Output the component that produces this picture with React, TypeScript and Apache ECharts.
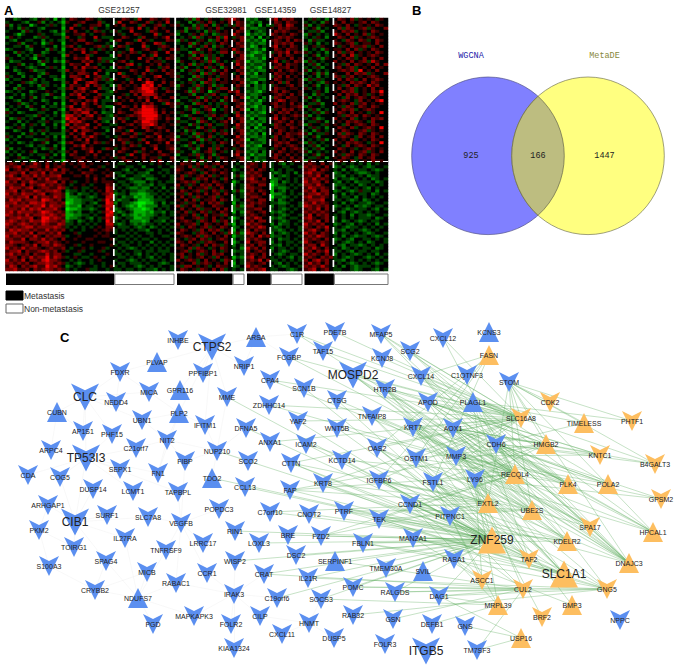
import React, { useEffect, useRef } from "react";
import * as echarts from "echarts";

const panelTitles = ["GSE21257", "GSE32981", "GSE14359", "GSE14827"];
const metastasisCounts = [27, 14, 6, 7];
const legendNames = ["Metastasis", "Non-metastasis"];
const vennSets = ["WGCNA", "MetaDE"];
const vennCounts = [925, 166, 1447];

const heatGSE21257 = [
"442344324534142 465446543444 446543744654564","344432445243431 544564446344 374465446345474",
"524344134435342 446344556424 546444364456345","434253443244441 474454634434 443564743464544",
"344425343443242 546443465343 534474443654464","443134445344331 445564344544 453446544473445",
"254344423534442 644354474333 446544364454574","432443344243432 454664435442 564443745344465",
"344524434135441 445446544434 344654464476344","443342544344242 564344456352 465344473445654",
"234443244425341 446564343543 544374456443546","442534344234432 454474564434 435465344564474",
"344243425344441 645446344442 464544464374445","534434314434342 446557446333 344544745643465",
"423344442534231 544465645352 456434446455344","344524343144442 465547443444 544674344546454",
"243443234435341 446475564342 465344546443564","442344523344432 645564446433 344465447354645",
"344234443254442 454665474424 473445464544465","534424342443341 466547456334 446544354467445",
"243344524344232 446754465352 544354746454544","434453234334442 547446764433 445464458744645",
"344244342534341 465547465342 364545487846445","442534443244432 564675446334 465445688764354",
"234344234454342 446564574432 544465678854465","443424344325441 465745446333 445346477764544",
"324434524344232 544674465424 464544656475446","443244344234442 465546574333 345464547446554",
"344523434434241 446475464344 564445465644375","434342544243342 574465446322 446546487754445",
"243444234534431 466756544343 454465688864544","534234443344242 546577464233 465446788874645",
"344443325434341 775646745432 544565688885454","423534344243442 867465546333 465344678875465",
"344243443354331 576754464324 546446588764454","443424534244242 746557446443 344564577864545",
"234534344434341 465675464334 465445476456544","442344243534442 547466544424 554374446545464",
"344424534243332 464574465344 446546354465445","534243344434241 546465754434 354465446547455",
"243444423354342 445647454445 465544364456546","434234344524431 564456465354 446354547445474",
"344443243344242 446574544444 545465344564455","524344434235341 454465644365 346544464474456",
"243434524443432 546445746444 465446354546445","434244343354241 465445464454 544374465445654",
"344523444243442 445564454545 356445464553446","443344234454331 544645445444 445654454647445",
"565464575464546 454564544454 433444344345434","656745665474565 445465445344 344334424443443",
"745656456565746 544544654454 443243443244334","566574665746556 454465544545 334334332443434",
"675466575656674 445546454465 432443323344343","566756646575565 544445464544 344323342234443",
"756465765566746 453445454555 433432224343433","665574656756565 434454344465 343343233243344",
"576656745665576 345433454476 434322322434243","667465576566764 233434345476 343433223343434",
"756576656745665 134233434567 233422112334343","665667475665765 122343234477 342331212243434",
"576756665876564 112233343586 323343111233344","667565776756656 012234324487 243321001134243",
"756667566857665 122143343577 343212012224334","666575767566754 011233234486 234321101243434",
"675766656876565 123244343578 323431112133243","765657566767656 112233434487 342321212234343",
"566766745886765 122343243576 234331122343334","676565766876656 234234343486 343422212433243",
"765676565765576 334343434477 323432323343434","656567756666765 343434345466 433343234234343",
"576766565575656 434434454565 343434332443434","667565746656574 445344445454 344343443343443",
"756656575465665 344544454554 433434344344334","665574665756546 445445544445 344343433434443",
"576665456675654 544454445544 433434344243434","665456574665765 445344544445 343344343434343",
"756575665456556 434454344534 434323434343434","566746556765645 344534445344 343443343343334",
"675656465575664 443344344454 334343243434343","566465756685765 345433454344 433434343243443",
"756574665786654 434344345444 344323434334343","665656456676565 343234344344 433433343443234",
"576465675586754 234344434345 343443234343443","667556465676565 343445334434 334334343324343",
];
const heatGSE32981 = [
"44352643544356 754","34424354634546 465","53442536425435 365","44253634546344 546","35244342535454 465","24435463423554 754",
"43452634546374 356","25344354236464 546","34462543534654 465","43425436425345 456","53344254634554 754","34426534543664 365",
"43452463534344 546","34435642536444 456","25443453625434 365","43462534543644 475","35244346354254 546","42453634525464 465",
"34435426354654 346","53442634543554 464","34425354636454 565","43453426534554 546","25443634525344 465","34435254643664 354",
"44526354135446 574","34452443564334 465","43344625345464 546","24435346454254 654","53442654343534 456","34254436543464 465",
"44352345614354 546","35442634534454 364","43254443564534 475","24436354245346 456","53344265434564 546","34425343643354 475",
"43544264534454 365","34253445364534 456","45342634543564 546","24435254634344 475","53344625345434 556","34452434534654 465",
"43254364435344 546","34435244636454 354","53442345634534 465","24453634525444 574","43344524643654 456","34252463543454 546",
"46554635456454 434","55463546534644 343","65446354565454 234","54565436454654 343","46354564635454 252","56443656454364 343",
"45656345465454 134","64535465646544 243","53464556354644 343","46545635465354 252","55364546456464 343","46453654563544 243",
"54646345564654 234","45355464656344 143","63546354465544 252","46454635546464 233","54635465354654 142","45546346455364 343",
"56445635464543 134","45654365463564 243","64556346545463 143","53465456354654 234","46545364656345 143","65443565464536 252",
"45654636545464 133","54356465345654 243","65464535654464 134","46545346465354 243","55463654354654 342","45634565464354 233",
"56454635465644 343","46354564536454 132","64565346454365 243","45446356545464 143","53664545346554 234","46545365464634 343",
];
const heatGSE14359 = [
"232443 57465644","323244 46546554","234142 35647644","322334 54656554","243234 46565445","132324 65454654",
"324143 45656544","232314 56546465","323224 46565644","312434 57454654","232314 46546554","321234 35657465",
"213324 54646544","322314 46554645","132234 57435465","323324 45646554","232134 36556454","323224 54645654",
"231434 46554545","322334 35646454","233224 46545545","321434 54636445","242324 35445645","332324 46554554",
"232134 56465445","322344 45654645","132424 36546554","323134 45764554","232244 56454645","321324 46554556",
"142324 35465645","323214 54656454","232334 46454565","314224 57465454","232324 45654645","323144 36546545",
"241324 46554654","323234 54654545","232414 45646556","322324 36456545","143224 56454654","323324 45656445",
"232144 46545654","322334 35464565","232424 54654545","313224 46546454","242334 56454645","332324 45654565",
"565464 34324344","655464 34433443","564654 24343344","656544 32343424","565644 24323443","675464 22343434",
"566554 12423434","654664 02334343","665544 13223434","564654 14324344","655464 12234343","566544 03323434",
"654664 24234344","565654 33223443","664554 24334343","556644 34323434","654564 23234344","565454 34323443",
"657644 23234334","564664 34323443","756544 24233434","565764 32343443","646554 33234343","765464 24323434",
"564756 23343443","656544 34233434","745664 24343343","564654 33243434","756464 24334343","645654 34323443",
"565464 43234334","674564 34343243","565746 33434343","654564 43243434","756544 34323443","565674 33443234",
];
const heatGSE14827 = [
"4353424 46546354 54354","3434254 54645456 46544","5243544 65464354 54654","3452434 46365456 35446","4335244 54656345 46544","2543434 75464546 35454",
"3435424 46546354 56544","4253344 54365465 34654","5342434 65456345 54644","3453544 43546556 35464","2434254 55464635 46544","5343424 46356454 54654",
"3452434 54647354 56544","4345254 45465346 45464","2534344 64546456 37544","4352434 45364654 54646","3435244 56456345 46454","5243434 45656384 54644",
"3452524 54464656 35446","4342434 65356454 56544","2535344 46465346 45654","4343254 54546565 46544","3452434 45364654 75644","5343424 46456345 46454",
"4435424 54656345 46584","3425344 46465645 35464","5243434 54364565 46544","3452444 45654364 54684","4335244 64546356 45454","2544344 45365465 46544",
"4352434 54656345 65444","3435254 46546454 35484","5243444 45365646 54544","3452344 64546345 46564","4335424 45465654 36444","2544354 54364565 46544",
"4353424 46546345 65484","3425434 54654456 35454","5243354 46365465 46544","3452444 45654364 56464","4343524 64546345 46544","2534344 45465654 35484",
"4352434 54364565 46544","3435244 46545345 65454","5243434 64546456 35464","3452544 45365465 46544","4335424 54654364 56444","2544344 46546345 46554",
"5654645 34343434 24344","6565464 23432343 23443","5674654 34243233 43234","6756544 23434322 34344","5657464 33243434 23344","6575654 24332343 42343",
"7566464 32434233 34234","6657544 23343423 43434","5765654 34234343 24344","6574664 23432353 34243","5667564 34243433 42344","6755654 24334243 43434",
"5666744 33432342 34344","6575654 34243433 23443","7656564 23434232 34334","5657464 34323433 43243","6565654 43243234 34344","5746564 34342433 23443",
"6754564 24343433 34234","5657464 34234323 43344","7565644 23432434 34243","6546574 34323343 43434","5675464 33243432 34344","7564654 24334343 23443",
"5657654 34243233 43234","6565464 23432443 34343","7545654 34323434 23443","5664754 43243323 43434","6575464 34234343 34234","5646574 33432433 43344",
"7565464 24343234 34243","5654656 34323443 23434","6467564 33243434 34343","5756464 43432343 43234","6565754 34243233 34344","5674564 33443234 43243",
];

const blueChevrons: [string, number, number][] = [
["INHBE",178,340],["CTPS2",212,347],["C1R",297,334],["PDE7B",335,332],["FCGBP",289,357],["TAF15",323,351],["FDXR",120,372],["PPFIBP1",203,373],
["NRIP1",244,366],["CPA4",270,380],["SCN1B",304,388],["MOSPD2",353,375],["CLC",85,397],["NEDD4",116,402],["MICA",149,392],["MME",227,397],
["ZDHHC14",269,405],["CTSG",337,400],["UBN1",142,420],["IFITM1",205,425],["DFNA5",246,428],["YAF2",298,421],["WNT5B",337,428],["AP1S1",83,431],
["PHF15",112,434],["C21orf7",136,448],["NIT2",167,440],["ANXA1",270,442],["ICAM2",306,444],["NUP210",217,451],["ARPC4",51,450],["TP53I3",86,458],
["SEPX1",120,469],["FIBP",185,461],["SCO2",248,461],["CTTN",291,463],["KCTD14",342,460],["CDA",28,475],["COG5",60,477],["FN1",158,473],
["CCL13",245,487],["FAP",290,490],["KRT8",323,483],["DUSP14",93,489],["LCMT1",133,491],["TAPBPL",178,492],["ARHGAP1",48,505],["SURF1",107,515],
["SLC7A8",148,517],["VEGFB",181,523],["POPDC3",219,509],["C7orf10",270,512],["CNOT2",309,514],["PTRF",344,511],["CIB1",75,522],["PKM2",39,530],
["RIN1",235,531],["BRE",288,535],["FZD2",321,536],["IL27RA",125,538],["LRRC17",203,543],["LOXL3",259,543],["TOIRG1",74,547],["TNFRSF9",166,550],
["DSC2",296,555],["S100A3",49,566],["SPAG4",106,561],["WISP2",235,561],["MICB",147,572],["CCR1",207,573],["CRAT",264,574],["IL21R",308,578],
["RABAC1",176,583],["CRYBB2",95,590],["IRAK3",234,594],["C19orf6",277,598],["SOCS3",321,599],["MAPKAPK3",194,616],["CILP",260,616],["FOLR2",231,624],
["PGD",153,624],["HNMT",309,623],["CXCL11",282,634],["DUSP5",334,638],["KIAA1324",234,648],["MFAP5",381,334],["CXCL12",443,338],["SCG2",410,351],
["KCNJ8",382,358],["C1QTNF3",467,375],["CXCL14",421,376],["STOM",509,382],["HTR2B",385,389],["APOD",428,402],["TNFAIP8",372,416],["KRT7",413,427],
["AOX1",453,428],["OAS2",377,448],["CDH6",496,444],["OSTM1",416,458],["MMP3",456,456],["IGFBP6",379,480],["FSTL1",433,482],["LY96",475,479],
["CCND1",410,504],["PITPNC1",450,516],["TEK",379,519],["MAN2A1",413,538],["FBLN1",363,543],["RASA1",454,559],["TMEM30A",386,568],["POMC",353,587],
["RALGDS",395,592],["DAG1",439,596],["RAB32",353,615],["NPPC",620,620],["GSN",393,619],["DEFB1",432,624],["GNS",465,626],["FOLR3",385,644],
["ITGB5",426,651],["TM7SF3",477,650],
];
const blueTriangles: [string, number, number][] = [
["ARSA",256,337],["PLVAP",157,362],["GPR116",180,390],["CUBN",57,412],["PLP2",179,413],["TDO2",212,478],["SERPINF1",335,561],["NDUFS7",138,598],
["KCNS3",489,332],["PLAGL1",473,402],["SVIL",423,571],
];
const orangeChevrons: [string, number, number][] = [
["CDK2",550,402],["SLC16A8",521,418],["PHTF1",632,421],["KNTC1",600,455],["B4GALT3",655,464],["GPSM2",661,499],["SPA17",590,527],["TAF2",529,559],
["ASCC1",482,580],["CUL2",523,589],["GNG5",607,589],["BRF2",542,617],
];
const orangeTriangles: [string, number, number][] = [
["FASN",489,355],["TIMELESS",584,423],["HMGB2",546,444],["RECQL4",515,474],["PLK4",568,484],["POLA2",608,484],["EXTL2",488,503],["UBE2S",532,510],
["HPCAL1",653,532],["ZNF259",492,540],["KDELR2",567,541],["DNAJC3",629,563],["SLC1A1",564,574],["MRPL39",498,605],["BMP3",572,605],["USP16",521,638],
];
const largeNodes = ["CTPS2","MOSPD2","CLC","TP53I3","CIB1","ITGB5","ZNF259","SLC1A1"];

const greenLinks: [string, string[]][] = [
["ZNF259",["RIN1","C7orf10","CNOT2","BRE","FZD2","DFNA5","CTTN","FAP","KRT8","CCL13","TDO2","LOXL3","DSC2","CRAT","WISP2","SERPINF1","IL21R","PTRF","TEK","FBLN1","MAN2A1","CCND1","OSTM1","OAS2","IGFBP6","FSTL1","KRT7","TNFAIP8","WNT5B","YAF2","ICAM2","MMP3","SCN1B","PITPNC1","LY96","POMC","RASA1","RALGDS","C19orf6","TMEM30A","CTSG","DAG1","KCTD14","SOCS3","MME","NUP210"]],
["SLC16A8",["C1R","PDE7B","FCGBP","TAF15","MFAP5","KCNJ8","SCG2","CXCL14","HTR2B","APOD","CXCL12","MOSPD2","STOM","PLAGL1","AOX1","KRT7","OSTM1","MMP3","FSTL1","OAS2","ZDHHC14","YAF2","CTTN","ANXA1","CPA4","IGFBP6","KRT8"]],
["RECQL4",["MOSPD2","HTR2B","TNFAIP8","APOD","FCGBP","CPA4","ZDHHC14","CTSG","WNT5B","KCTD14","FAP","FZD2","AOX1","CDH6","LY96","FSTL1","CCND1","TEK","STOM","PLAGL1","C1R","MFAP5","CXCL12"]],
["HPCAL1",["STOM","CDH6","AOX1","APOD","PLAGL1","MMP3","LY96"]],
["DNAJC3",["STOM","CDH6","AOX1","APOD","CXCL14","MMP3","SCG2","PLAGL1","LY96","CCND1","MOSPD2","HTR2B","MFAP5","KRT7","FSTL1"]],
["PHTF1",["STOM","PLAGL1"]],["B4GALT3",["STOM","PLAGL1","CDH6","AOX1"]],["CDK2",["STOM"]],["TIMELESS",["STOM","PLAGL1","CDH6"]],
["HMGB2",["MOSPD2","APOD","AOX1","KRT7","STOM","MFAP5","OSTM1","FSTL1","FAP","LY96"]],["KNTC1",["APOD","CDH6","MMP3","HTR2B","AOX1"]],
["PLK4",["APOD","AOX1","CXCL14","CDH6","KRT7","MMP3","OSTM1","HTR2B","SCG2"]],["POLA2",["CDH6","AOX1","MMP3","CXCL14","KRT7"]],["GPSM2",["CDH6","LY96","MMP3"]],
["EXTL2",["C7orf10","OAS2","KRT7","HTR2B","CTTN","FAP","KRT8","IGFBP6","STOM","PLAGL1","FZD2","ICAM2"]],
["UBE2S",["STOM","AOX1","HTR2B","KRT7","OAS2","IGFBP6","OSTM1","CCND1","TEK","PTRF","MOSPD2","CDH6"]],
["SPA17",["AOX1","KRT7","TNFAIP8","CDH6","MMP3","FSTL1"]],
["KDELR2",["CCND1","IGFBP6","OSTM1","AOX1","KRT7","PTRF","LY96","FBLN1","TEK","CXCL14","MOSPD2"]],
["TAF2",["FSTL1","KRT7","OAS2","MAN2A1","CCND1","LY96","PLAGL1","IGFBP6","APOD","TNFAIP8"]],
["SLC1A1",["FBLN1","TEK","MAN2A1","CCND1","FSTL1","KRT8","KRT7","LY96","MMP3","AOX1","CTTN","PTRF","HTR2B"]],
["GNG5",["FBLN1","TEK","MAN2A1","POMC","RALGDS","DAG1","CCND1","LY96","CDH6","RAB32","FSTL1","IL21R"]],
["CUL2",["DAG1","RALGDS","GSN","POMC","LY96","CCND1","TM7SF3","PITPNC1","SERPINF1","CRAT"]],
["ASCC1",["FSTL1","CCND1","RASA1","MAN2A1","LY96"]],["MRPL39",["DAG1","DEFB1","LY96","RASA1","SOCS3","PITPNC1"]],["BMP3",["LY96","RASA1"]],
["USP16",["GNS","TM7SF3","DAG1"]],["FASN",["C1QTNF3","CXCL14","OSTM1","FSTL1","IGFBP6","OAS2"]],["BRF2",["MMP3"]],
];
const faintLinks: [string, string[]][] = [
["CLC",["NEDD4","UBN1","AP1S1","PHF15","MICA","FDXR","CUBN","TP53I3"]],["CIB1",["SURF1","TOIRG1","SPAG4","IL27RA","ARHGAP1","SLC7A8","DUSP14","TP53I3","COG5"]],
["TP53I3",["SEPX1","LCMT1","C21orf7","PHF15","FN1","TAPBPL","ARPC4","CDA","COG5"]],["CTPS2",["INHBE","PPFIBP1","PLVAP","NRIP1","MME","GPR116","PLP2","IFITM1","ARSA"]],
["NDUFS7",["MICB","SPAG4","CRYBB2","RABAC1","PGD","MAPKAPK3","TNFRSF9","IL27RA"]],["VEGFB",["TNFRSF9","LRRC17","POPDC3","FIBP","TAPBPL","SLC7A8","CCR1","RABAC1"]],
["IRAK3",["WISP2","CCR1","MAPKAPK3","FOLR2","CILP","KIAA1324","C19orf6","CRAT","RABAC1"]],["NUP210",["NIT2","FIBP","IFITM1","TDO2","SCO2","DFNA5","MME"]],
["PLP2",["UBN1","MICA","NIT2","IFITM1","FN1"]],["PKM2",["ARHGAP1","S100A3","TOIRG1"]],["NIT2",["C21orf7","UBN1","FN1","FIBP"]],["HNMT",["CXCL11","CILP","SOCS3","DUSP5"]],
["CRYBB2",["S100A3","SPAG4","MICB"]],["ARSA",["NRIP1","C1R","FCGBP"]],["CUBN",["AP1S1","ARPC4"]],["FDXR",["NEDD4","MICA","PLVAP"]],
];

const heatPanels = [heatGSE21257, heatGSE32981, heatGSE14359, heatGSE14827];
const panelBoxes = [[5.5, 168.5], [176.5, 67.5], [246.5, 55.5], [304, 84]];
const heatTop = 18, heatHeight = 253;

const BLUE = "#5b8ff0", ORANGE = "#fdbe60";
const CHEVRON = "path://M0 0L50 25L100 0L50 100Z";
const FONT = "Liberation Sans, Arial, sans-serif";

function buildOption() {
  const grids: any[] = [], xAxes: any[] = [], yAxes: any[] = [], series: any[] = [];
  const graphic: any[] = [];
  heatPanels.forEach((raw, p) => {
    const rows = raw.map((r) => r.replace(/\s/g, ""));
    const nCols = Math.max(...rows.map((r) => r.length));
    const [left, width] = panelBoxes[p];
    grids.push({ left, width, top: heatTop, height: heatHeight, show: true, backgroundColor: "#0c1a0c", borderWidth: 0 });
    xAxes.push({ type: "category", gridIndex: p, show: false, data: Array.from({ length: nCols }, (_, i) => i) });
    yAxes.push({ type: "category", gridIndex: p, show: false, inverse: true, data: rows.map((_, i) => i) });
    const data: number[][] = [];
    rows.forEach((r, y) => [...r].forEach((c, x) => data.push([x, y, Number(c)])));
    series.push({ type: "heatmap", xAxisIndex: p, yAxisIndex: p, data, progressive: 0, itemStyle: { borderWidth: 0 }, silent: true });
    const dashX = left + (width * metastasisCounts[p]) / nCols;
    graphic.push({ type: "line", z: 20, shape: { x1: dashX, y1: heatTop, x2: dashX, y2: heatTop + heatHeight }, style: { stroke: "#fff", lineWidth: 1.7, lineDash: [7, 4] } });
    graphic.push({ type: "text", style: { text: panelTitles[p], x: [119, 226, 275.5, 330.5][p], y: 9.5, fill: "#333", font: `8.5px ${FONT}`, textAlign: "center", textVerticalAlign: "middle" } });
  });
  heatPanels.forEach((raw, p) => {
    const nCols = raw[0].replace(/\s/g, "").length;
    const [left, width] = panelBoxes[p];
    const g = grids.length;
    grids.push({ left: left + 0.5, width: width, top: 273.5, height: 11.5 });
    xAxes.push({ type: "value", gridIndex: g, show: false, min: 0, max: nCols });
    yAxes.push({ type: "category", gridIndex: g, show: false, data: ["samples"] });
    series.push({ type: "bar", xAxisIndex: g, yAxisIndex: g, stack: "s" + p, barWidth: "100%", data: [metastasisCounts[p]], itemStyle: { color: "#000" }, silent: true });
    series.push({ type: "bar", xAxisIndex: g, yAxisIndex: g, stack: "s" + p, barWidth: "100%", data: [nCols - metastasisCounts[p]], itemStyle: { color: "#fff", borderColor: "#777", borderWidth: 1 }, silent: true });
  });
  graphic.push({ type: "line", z: 20, shape: { x1: 7, y1: 161.5, x2: 388, y2: 161.5 }, style: { stroke: "#fff", lineWidth: 1.2, lineDash: [5, 3] } });

  // panel letters and sample legend
  [["A", 4, 10], ["B", 412, 10], ["C", 60, 337]].forEach(([t, x, y]) =>
    graphic.push({ type: "text", style: { text: t, x, y, fill: "#000", font: `bold 13px ${FONT}`, textAlign: "left", textVerticalAlign: "middle" } }));
  legendNames.forEach((name, i) => {
    const y = [291, 304][i];
    graphic.push({ type: "rect", shape: { x: 6, y, width: 17, height: 9 }, style: { fill: i ? "#fff" : "#000", stroke: i ? "#666" : "#000", lineWidth: 1 } });
    graphic.push({ type: "text", style: { text: name, x: 24, y: y + 4.5, fill: "#333", font: `8.5px ${FONT}`, textAlign: "left", textVerticalAlign: "middle" } });
  });

  // venn diagram
  const lens = "M538 96.3A76.3 78.8 0 0 1 538 215.3A76.3 78.8 0 0 1 538 96.3Z";
  echarts.graphic.registerShape("vennLens", echarts.graphic.extendPath(lens, {}));
  graphic.push({ type: "ellipse", shape: { cx: 488, cy: 155.8, rx: 76.3, ry: 78.8 }, style: { fill: "#8080ff", stroke: "#55558a", lineWidth: 0.7 } });
  graphic.push({ type: "ellipse", shape: { cx: 588, cy: 155.8, rx: 76.3, ry: 78.8 }, style: { fill: "#ffff80", stroke: "#77775a", lineWidth: 0.7 } });
  graphic.push({ type: "vennLens", x: 0, y: 0, style: { fill: "#bdbd80", stroke: "#66664a", lineWidth: 0.7 } });
  vennSets.forEach((s, i) =>
    graphic.push({ type: "text", style: { text: s, x: [471, 604.5][i], y: 55.5, fill: ["#2222aa", "#88883c"][i], font: `8.5px Liberation Mono, monospace`, textAlign: "center", textVerticalAlign: "middle" } }));
  vennCounts.forEach((c, i) =>
    graphic.push({ type: "text", style: { text: String(c), x: [471, 538, 604.5][i], y: 155.8, fill: "#222", font: `8.5px Liberation Mono, monospace`, textAlign: "center", textVerticalAlign: "middle" } }));

  // network
  const g = grids.length;
  grids.push({ left: 0, top: 0, width: 677, height: 669 });
  xAxes.push({ type: "value", gridIndex: g, show: false, min: 0, max: 677 });
  yAxes.push({ type: "value", gridIndex: g, show: false, min: 0, max: 669, inverse: true });
  const mk = (list: [string, number, number][], color: string, symbol: string) =>
    list.map(([name, x, y]) => {
      const big = largeNodes.includes(name);
      return {
        name, value: [x, y], symbol, symbolSize: big ? [28, 27] : [20, 20],
        itemStyle: { color },
        label: { show: true, position: "inside", formatter: name, color: "#222", fontFamily: FONT, fontSize: big ? 12 : 7 },
      };
    });
  const nodes = [...mk(blueChevrons, BLUE, CHEVRON), ...mk(blueTriangles, BLUE, "triangle"), ...mk(orangeChevrons, ORANGE, CHEVRON), ...mk(orangeTriangles, ORANGE, "triangle")];
  const known = new Set(nodes.map((n) => n.name));
  const toLinks = (table: [string, string[]][], color: string, width: number) =>
    table.flatMap(([s, ts]) => ts.filter((t) => known.has(t) && known.has(s)).map((t) => ({ source: s, target: t, lineStyle: { color, width, opacity: 1 } })));
  series.push({
    type: "graph", coordinateSystem: "cartesian2d", xAxisIndex: g, yAxisIndex: g, layout: "none", silent: true, z: 5,
    data: nodes,
    links: [...toLinks(faintLinks, "rgba(200,200,200,0.22)", 0.6), ...toLinks(greenLinks, "rgba(95,175,95,0.6)", 0.6)],
    labelLayout: { hideOverlap: false },
  });

  return {
    animation: false, backgroundColor: "#fff", grid: grids, xAxis: xAxes, yAxis: yAxes, series, graphic,
    visualMap: { type: "continuous", show: false, min: 0, max: 8, dimension: 2, seriesIndex: [0, 1, 2, 3], inRange: { color: ["#00e800", "#000000", "#f00000"] } },
  };
}

export default function App() {
  const ref = useRef<HTMLDivElement>(null);
  useEffect(() => {
    const chart = echarts.init(ref.current!, undefined, { renderer: "svg" });
    chart.setOption(buildOption() as any);
    return () => chart.dispose();
  }, []);
  return <div ref={ref} style={{ position: "fixed", left: 0, top: 0, width: 677, height: 669 }} />;
}
